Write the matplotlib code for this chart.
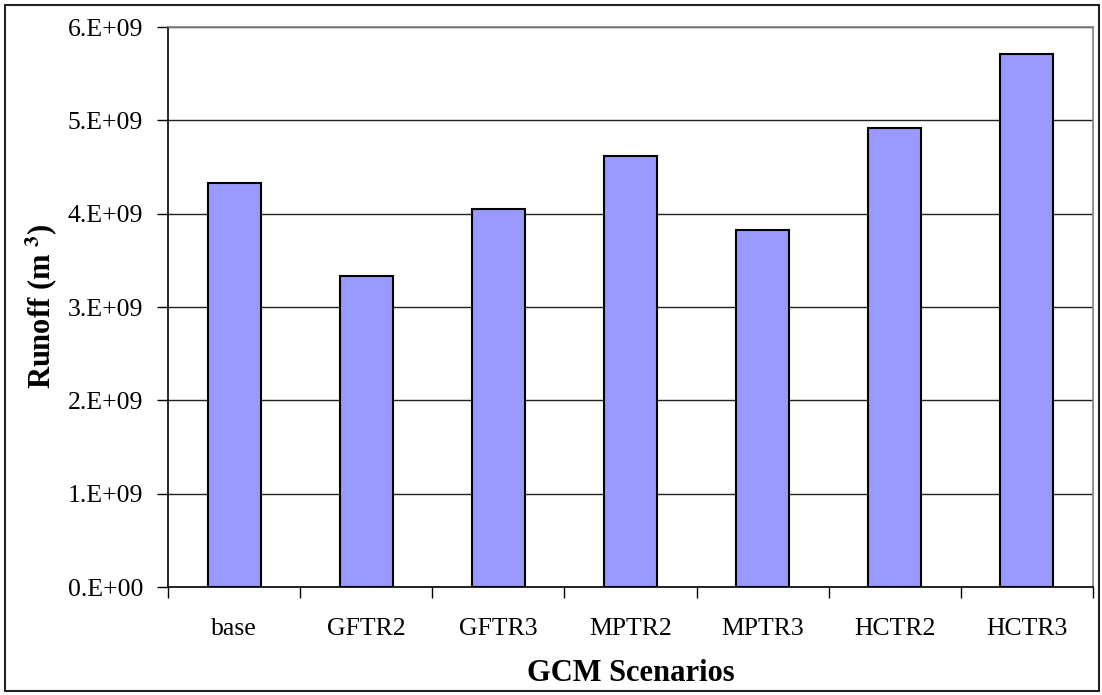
import matplotlib
matplotlib.use('Agg')
import matplotlib.pyplot as plt
from matplotlib.patches import Rectangle

# runoff for each GCM scenario (m^3)
scenarios = ['base', 'GFTR2', 'GFTR3', 'MPTR2', 'MPTR3', 'HCTR2', 'HCTR3']
runoff = [4.33e9, 3.33e9, 4.05e9, 4.62e9, 3.82e9, 4.92e9, 5.71e9]
yticks = [0, 1e9, 2e9, 3e9, 4e9, 5e9, 6e9]
ytick_labels = ['0.E+00', '1.E+09', '2.E+09', '3.E+09', '4.E+09', '5.E+09', '6.E+09']

plt.rcParams['font.family'] = ['Liberation Serif', 'DejaVu Serif']
plt.rcParams['mathtext.fontset'] = 'stix'

fig = plt.figure(figsize=(11.02, 6.95), dpi=100)
ax = fig.add_axes([168 / 1102, 1 - 587 / 695, (1093 - 168) / 1102, (587 - 27) / 695])

x = list(range(len(scenarios)))
ax.bar(x, runoff, width=0.4, color='#9999FF', edgecolor='black', linewidth=1.5, zorder=3)

ax.set_ylim(0, 6e9)
ax.set_yticks(yticks)
ax.set_yticklabels(ytick_labels, fontsize=18.5)
ax.yaxis.grid(True, color='#222222', linewidth=1.0, zorder=0)
ax.tick_params(axis='y', direction='out', length=8, width=1, pad=10)

# category labels on minor ticks, tick marks on boundaries
ax.set_xlim(-0.5, len(scenarios) - 0.5)
ax.set_xticks([i - 0.5 for i in range(len(scenarios) + 1)])
ax.set_xticklabels([])
ax.set_xticks(x, minor=True)
ax.set_xticklabels(scenarios, minor=True, fontsize=18.5)
ax.tick_params(axis='x', which='major', direction='out', length=8, width=1)
ax.tick_params(axis='x', which='minor', length=0, pad=22)

for side in ['top', 'right']:
    ax.spines[side].set_color('#808080')
    ax.spines[side].set_linewidth(1.2)
for side in ['left', 'bottom']:
    ax.spines[side].set_color('black')
    ax.spines[side].set_linewidth(1.2)

ax.set_xlabel('GCM Scenarios', fontsize=22, fontweight='bold', labelpad=14)
fig.text(42 / 1102, 1 - 306 / 695, r'Runoff (m $^{\mathbf{3}}$)', rotation=90,
         fontsize=22, fontweight='bold', ha='center', va='center')

# outer chart border
fig.patches.append(Rectangle((5 / 1102, 4 / 695), 1094 / 1102, 686 / 695, transform=fig.transFigure,
                             fill=False, edgecolor='#222222', linewidth=1.5))

fig.savefig('out.png', dpi=100)
